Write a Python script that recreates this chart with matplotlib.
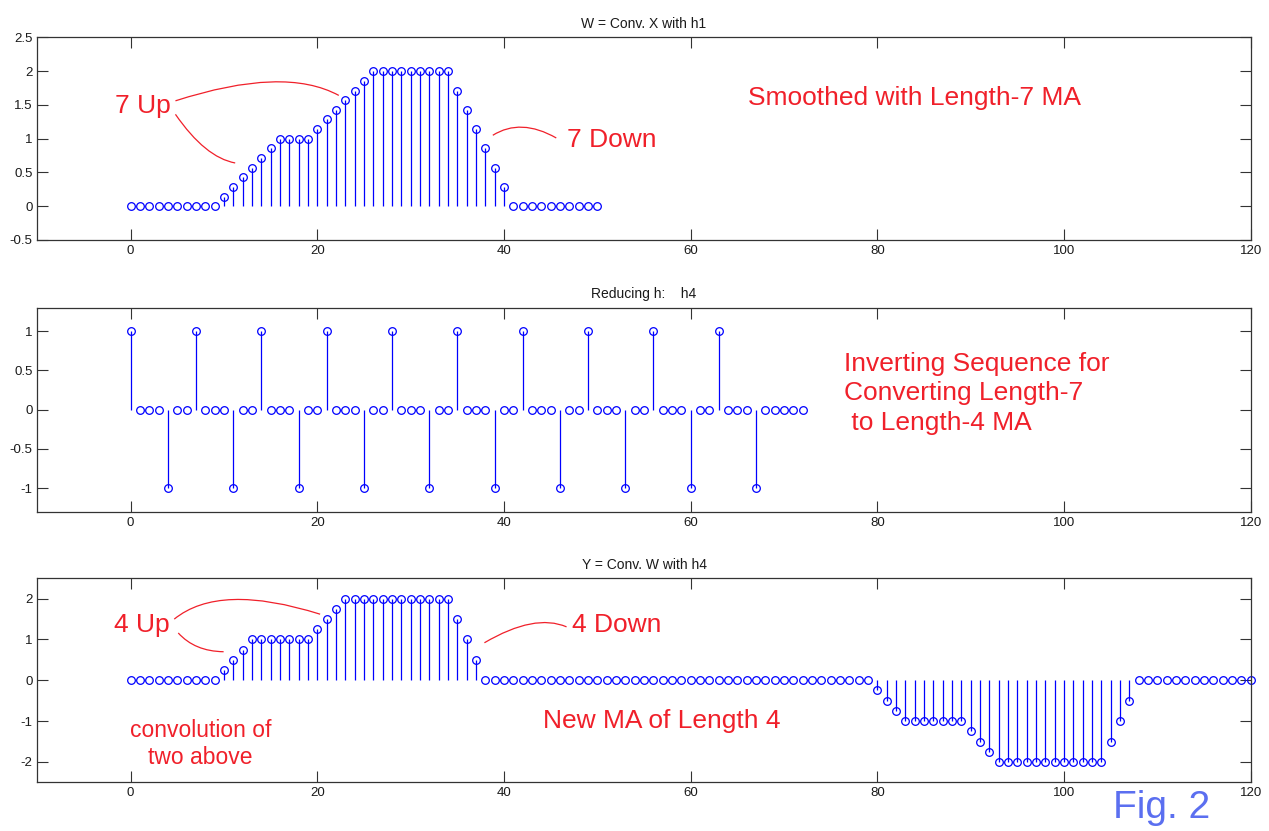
import numpy as np
import matplotlib
matplotlib.use("Agg")
import matplotlib.pyplot as plt
from matplotlib.path import Path
from matplotlib.patches import PathPatch

plt.rcParams['font.family'] = ['Liberation Sans', 'DejaVu Sans']

# W = X smoothed with the length-7 moving average (n = 0..50)
w_vals = [0, 0, 0, 0, 0, 0, 0, 0, 0, 0,
          0.14, 0.29, 0.43, 0.57, 0.71, 0.86, 1, 1, 1, 1,
          1.14, 1.29, 1.43, 1.57, 1.71, 1.86, 2, 2, 2, 2,
          2, 2, 2, 2, 2, 1.71, 1.43, 1.14, 0.86, 0.57,
          0.29, 0, 0, 0, 0, 0, 0, 0, 0, 0,
          0]

# h4 = inverting sequence (n = 0..72)
h4_vals = [1, 0, 0, 0, -1, 0, 0, 1, 0, 0,
           0, -1, 0, 0, 1, 0, 0, 0, -1, 0,
           0, 1, 0, 0, 0, -1, 0, 0, 1, 0,
           0, 0, -1, 0, 0, 1, 0, 0, 0, -1,
           0, 0, 1, 0, 0, 0, -1, 0, 0, 1,
           0, 0, 0, -1, 0, 0, 1, 0, 0, 0,
           -1, 0, 0, 1, 0, 0, 0, -1, 0, 0,
           0, 0, 0]

# Y = W convolved with h4 (n = 0..120, as far as the axis shows)
y_vals = [0, 0, 0, 0, 0, 0, 0, 0, 0, 0,
          0.25, 0.5, 0.75, 1, 1, 1, 1, 1, 1, 1,
          1.25, 1.5, 1.75, 2, 2, 2, 2, 2, 2, 2,
          2, 2, 2, 2, 2, 1.5, 1, 0.5, 0, 0,
          0, 0, 0, 0, 0, 0, 0, 0, 0, 0,
          0, 0, 0, 0, 0, 0, 0, 0, 0, 0,
          0, 0, 0, 0, 0, 0, 0, 0, 0, 0,
          0, 0, 0, 0, 0, 0, 0, 0, 0, 0,
          -0.25, -0.5, -0.75, -1, -1, -1, -1, -1, -1, -1,
          -1.25, -1.5, -1.75, -2, -2, -2, -2, -2, -2, -2,
          -2, -2, -2, -2, -2, -1.5, -1, -0.5, 0, 0,
          0, 0, 0, 0, 0, 0, 0, 0, 0, 0,
          0]

titles = ['W = Conv. X with h1', 'Reducing h:    h4', 'Y = Conv. W with h4']
x_ticks = [0, 20, 40, 60, 80, 100, 120]

RED = '#f0202a'
BLUE = '#0000ff'


def stem_plot(ax, vals, title, ylim, yticks, ylabels):
    n = np.arange(len(vals))
    markers, stems, base = ax.stem(n, vals, linefmt='-', markerfmt='o', basefmt=' ')
    stems.set_color(BLUE)
    stems.set_linewidth(0.9)
    markers.set_markerfacecolor('none')
    markers.set_markeredgecolor(BLUE)
    markers.set_markersize(5.5)
    markers.set_markeredgewidth(0.9)
    markers.set_clip_on(False)
    ax.set_xlim(-10, 120)
    ax.set_ylim(*ylim)
    ax.set_xticks(x_ticks)
    ax.set_yticks(yticks)
    ax.set_yticklabels(ylabels)
    ax.tick_params(direction='in', length=8, width=0.8, top=True, right=True,
                   labelsize=9.5, colors='#333333', labelcolor='#1a1a1a')
    for s in ax.spines.values():
        s.set_color('#333333')
        s.set_linewidth(0.9)
    ax.set_title(title, fontsize=10, pad=7, color='#1a1a1a')


def leader(ax, start, mid, end):
    # quadratic curve through three points (hand drawn pointer lines)
    s, m, e = np.array(start), np.array(mid), np.array(end)
    c = 2 * m - (s + e) / 2
    path = Path([s, c, e], [Path.MOVETO, Path.CURVE3, Path.CURVE3])
    ax.add_patch(PathPatch(path, fill=False, edgecolor=RED, lw=0.9))


fig = plt.figure(figsize=(12.69, 8.31), dpi=100)
ax1 = fig.add_axes([0.0294, 0.7112, 0.9562, 0.2439])
ax2 = fig.add_axes([0.0294, 0.3842, 0.9562, 0.2455])
ax3 = fig.add_axes([0.0294, 0.0586, 0.9562, 0.2455])

stem_plot(ax1, w_vals, titles[0], (-0.5, 2.5),
          [-0.5, 0, 0.5, 1, 1.5, 2, 2.5], ['-0.5', '0', '0.5', '1', '1.5', '2', '2.5'])
stem_plot(ax2, h4_vals, titles[1], (-1.3, 1.3),
          [-1, -0.5, 0, 0.5, 1], ['-1', '-0.5', '0', '0.5', '1'])
stem_plot(ax3, y_vals, titles[2], (-2.5, 2.5),
          [-2, -1, 0, 1, 2], ['-2', '-1', '0', '1', '2'])

# annotations, top panel
ax1.text(1.3, 1.48, '7 Up', color=RED, fontsize=19, ha='center', va='center')
ax1.text(51.5, 0.98, '7 Down', color=RED, fontsize=19, ha='center', va='center')
ax1.text(66.1, 1.6, 'Smoothed with Length-7 MA', color=RED, fontsize=19,
         ha='left', va='center')
leader(ax1, (4.8, 1.56), (15.0, 1.84), (22.3, 1.64))
leader(ax1, (4.8, 1.36), (8.0, 0.86), (11.2, 0.64))
leader(ax1, (38.8, 1.05), (42.0, 1.17), (45.6, 1.01))

# middle panel
ax2.text(76.4, 0.21, 'Inverting Sequence for\nConverting Length-7\n to Length-4 MA',
         color=RED, fontsize=19, ha='left', va='center', linespacing=1.3)

# bottom panel
ax3.text(1.2, 1.36, '4 Up', color=RED, fontsize=19, ha='center', va='center')
ax3.text(52.1, 1.36, '4 Down', color=RED, fontsize=19, ha='center', va='center')
ax3.text(56.9, -1.0, 'New MA of Length 4', color=RED, fontsize=19,
         ha='center', va='center')
ax3.text(7.5, -1.56, 'convolution of\ntwo above', color=RED, fontsize=16.5,
         ha='center', va='center', linespacing=1.2)
leader(ax3, (4.67, 1.50), (11.0, 1.98), (20.3, 1.62))
leader(ax3, (5.1, 1.16), (7.2, 0.82), (9.96, 0.70))
leader(ax3, (37.9, 0.92), (42.8, 1.38), (46.7, 1.31))

fig.text(0.915, 0.028, 'Fig. 2', color='#5b6ff0', fontsize=28, ha='center', va='center')

fig.savefig('out.png', dpi=100)
